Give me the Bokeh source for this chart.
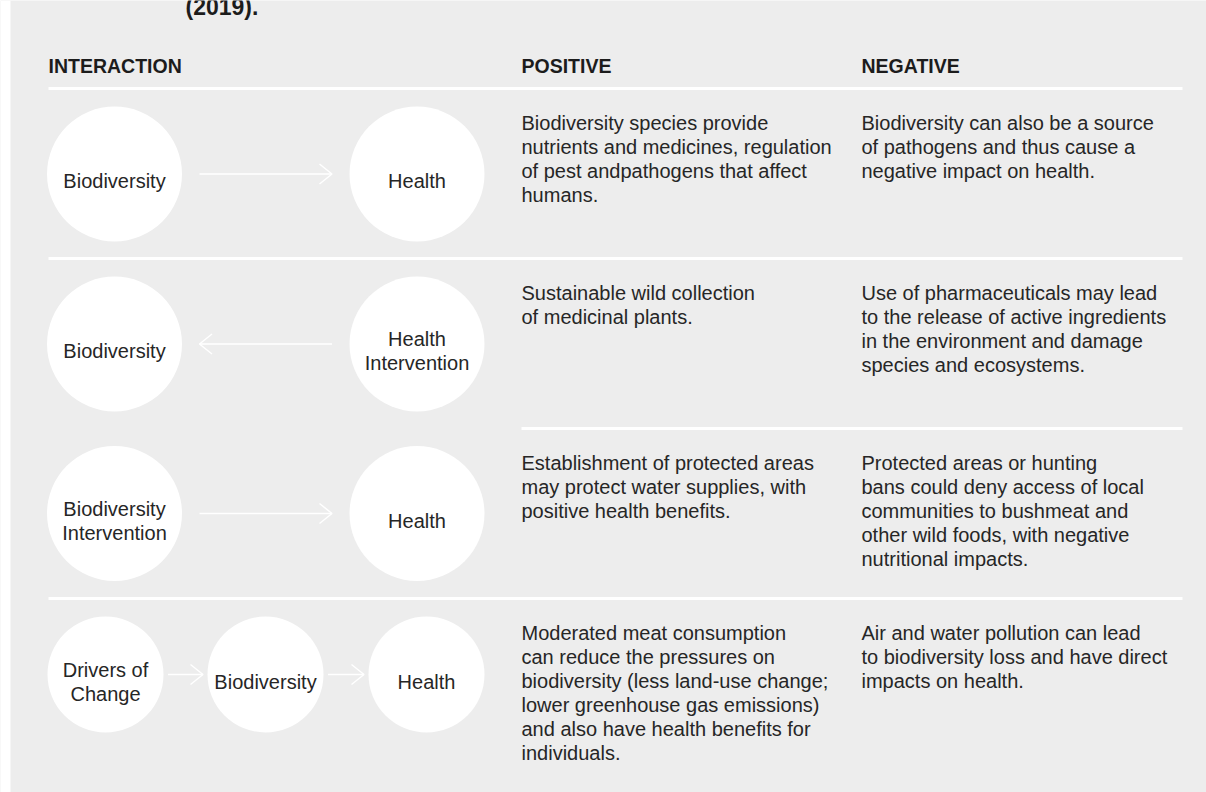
from bokeh.plotting import figure
from bokeh.models import Range1d, ColumnDataSource
from bokeh.embed import file_html
from bokeh.resources import INLINE
from bokeh.core.properties import value

# ---------------- content ----------------
title_fragment = "(2019)."
headers = ["INTERACTION", "POSITIVE", "NEGATIVE"]

row_nodes = [
    ["Biodiversity", "Health"],
    ["Biodiversity", "Health\nIntervention"],
    ["Biodiversity\nIntervention", "Health"],
    ["Drivers of\nChange", "Biodiversity", "Health"],
]
row_arrow_dir = ["right", "left", "right", "right"]

positive_text = [
    ["Biodiversity  species provide", "nutrients and medicines, regulation",
     "of pest andpathogens that affect", "humans."],
    ["Sustainable wild collection", "of medicinal plants."],
    ["Establishment of protected areas", "may protect water supplies, with",
     "positive health benefits."],
    ["Moderated meat consumption", "can reduce the pressures on",
     "biodiversity (less land-use change;", "lower greenhouse gas emissions)",
     "and also have health benefits for", "individuals."],
]
negative_text = [
    ["Biodiversity can also be a source", "of pathogens and thus cause a",
     "negative impact on health."],
    ["Use of pharmaceuticals may lead", "to the release of active ingredients",
     "in the environment and damage", "species and ecosystems."],
    ["Protected areas or hunting", "bans could deny access of local",
     "communities to bushmeat and", "other wild foods, with negative",
     "nutritional impacts."],
    ["Air and water pollution can lead", "to biodiversity loss and have direct",
     "impacts on health."],
]

# ---------------- layout (page pixel coordinates) ----------------
BG = "#ededed"
TXT = "#262626"
HDR = "#1c1c1c"
FONT = "Liberation Sans"

col_x = [48, 521, 861]
header_base = 65
rule_y = [88, 258, 428, 598]
rule_x0 = [48, 48, 521, 48]
rule_x1 = 1182
row_cy = [173.5, 343.5, 513, 674]
node_x = [[114, 416.5], [114, 416.5], [114, 416.5], [105, 265, 426]]
node_r = [67.5, 67.5, 67.5, 58]
arrow_gap = [17.5, 17.5, 17.5, 4.5]
line_h = 24
body_offset = 34

W, H = 1206, 792
p = figure(width=W, height=H,
           x_range=Range1d(0, W), y_range=Range1d(H, 0),
           output_backend="svg", toolbar_location=None,
           x_axis_location=None, y_axis_location=None,
           min_border=0, min_border_left=0, min_border_right=0,
           min_border_top=0, min_border_bottom=0)
p.grid.visible = False
p.outline_line_color = None
p.background_fill_color = BG
p.border_fill_color = BG

# thin white strip at far left, as in the reference
p.quad(left=[0], right=[10], bottom=[H], top=[0], color="white", line_color=None)

# clipped title fragment at the very top (cut off in the reference too)
p.text(x=[185], y=[6], text=[title_fragment], text_font=value(FONT),
       text_font_size="23px", text_font_style="bold", text_color=HDR,
       text_baseline="alphabetic", text_align="left")

# headers
p.text(x=col_x, y=[header_base] * 3, text=headers, text_font=value(FONT),
       text_font_size="19.5px", text_font_style="bold", text_color=HDR,
       text_baseline="alphabetic", text_align="left")

# white rules
p.segment(x0=rule_x0, y0=rule_y, x1=[rule_x1] * len(rule_y), y1=rule_y,
          line_color="white", line_width=3)

# circles + labels + arrows
cx, cy, cr = [], [], []
lx, ly, lt = [], [], []
sx0, sy0, sx1, sy1 = [], [], [], []
hxs, hys = [], []
for r, nodes in enumerate(row_nodes):
    yc = row_cy[r]
    rad = node_r[r]
    for i, lab in enumerate(nodes):
        cx.append(node_x[r][i]); cy.append(yc); cr.append(rad)
        parts = lab.split("\n")
        n = len(parts)
        for k, part in enumerate(parts):
            lx.append(node_x[r][i])
            ly.append(yc + 7 + (k - (n - 1) / 2) * line_h)
            lt.append(part)
    for i in range(len(nodes) - 1):
        x0 = node_x[r][i] + rad + arrow_gap[r]
        x1 = node_x[r][i + 1] - rad - arrow_gap[r]
        sx0.append(x0); sx1.append(x1); sy0.append(yc); sy1.append(yc)
        if row_arrow_dir[r] == "right":
            tip, back = x1, x1 - 12.5
        else:
            tip, back = x0, x0 + 12.5
        hxs.append([back, tip, back])
        hys.append([yc - 10, yc, yc + 10])

p.circle(x=cx, y=cy, radius=cr, fill_color="white", line_color=None)
p.segment(x0=sx0, y0=sy0, x1=sx1, y1=sy1, line_color="white", line_width=1.5)
p.multi_line(xs=hxs, ys=hys, line_color="white", line_width=1.5)
p.text(x=lx, y=ly, text=lt, text_font=value(FONT), text_font_size="20px",
       text_color=TXT, text_baseline="alphabetic", text_align="center")

# body text
bx, by, bt = [], [], []
for r in range(len(row_nodes)):
    for col, block in ((1, positive_text[r]), (2, negative_text[r])):
        for k, line in enumerate(block):
            bx.append(col_x[col])
            by.append(rule_y[r] + body_offset + k * line_h)
            bt.append(line)
p.text(source=ColumnDataSource(dict(x=bx, y=by, t=bt)), x="x", y="y", text="t",
       text_font=value(FONT), text_font_size="20px", text_color=TXT,
       text_baseline="alphabetic", text_align="left")

open("out.html", "w").write(file_html(p, INLINE))
